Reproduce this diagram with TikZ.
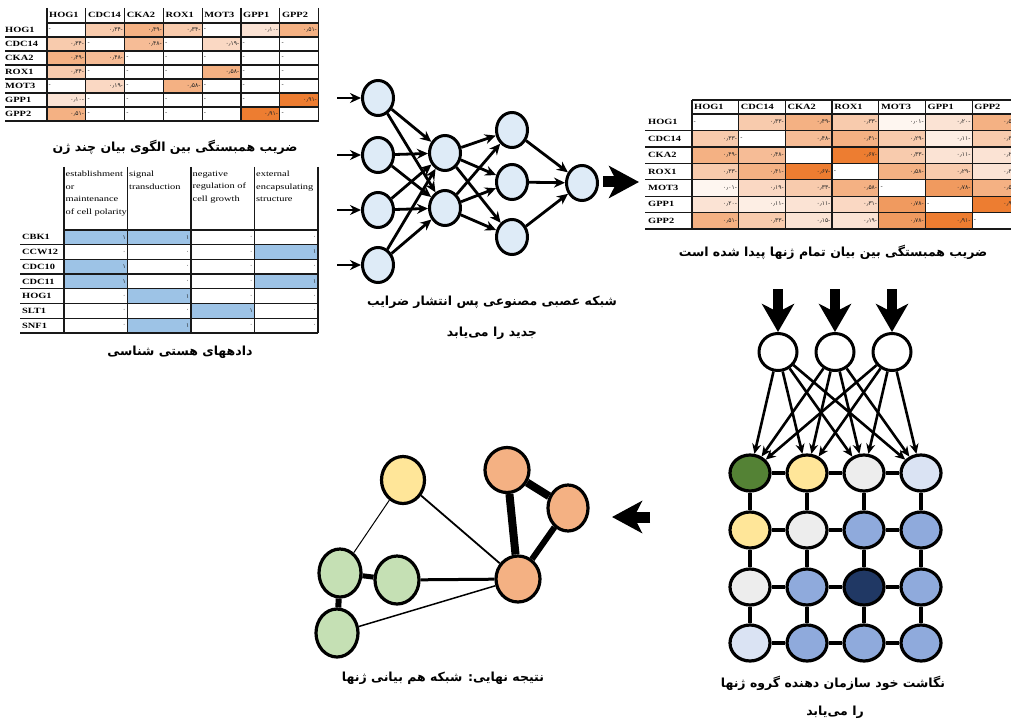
\documentclass[tikz,border=0pt]{standalone}
\usepackage{fontspec}
\setmainfont{Liberation Serif}
\newfontfamily\labfont[FakeStretch=1.3]{Liberation Serif}
\newfontfamily\fa[Script=Arabic]{DejaVu Sans}
\TeXXeTstate=1
\usetikzlibrary{arrows.meta,shapes.geometric}
\definecolor{o0}{HTML}{FEF6F0}
\definecolor{o05}{HTML}{FDEEE4}
\definecolor{o1}{HTML}{FBE3D4}
\definecolor{o15}{HTML}{FAD8C3}
\definecolor{o2}{HTML}{F8CBAD}
\definecolor{o25}{HTML}{F6BC96}
\definecolor{o3}{HTML}{F4B183}
\definecolor{o35}{HTML}{F09A5F}
\definecolor{o4}{HTML}{ED7D31}
\definecolor{tb}{HTML}{9DC3E6}
\definecolor{nnb}{HTML}{DEEBF7}
\definecolor{gG}{HTML}{548235}
\definecolor{gY}{HTML}{FFE699}
\definecolor{gL}{HTML}{EDEDED}
\definecolor{gP}{HTML}{DAE3F3}
\definecolor{gB}{HTML}{8FAADC}
\definecolor{gN}{HTML}{203864}
\definecolor{fY}{HTML}{FFE699}
\definecolor{fO}{HTML}{F4B183}
\definecolor{fG}{HTML}{C5E0B4}
\newcommand\tcell[8]{%
  \fill[fill=#6] (#2,#3) rectangle ++(#4,#5);
  \node[val,anchor=west] (#1l) at (#2+1.5,#3+#5/2) {#7};
  \node[val,anchor=east] (#1r) at (#2+#4-1.5,#3+#5/2) {#8};}
\newcommand\trow[6]{%
  \foreach \c/\l/\rr [count=\i from 0] in {#6} {\tcell{#1\i}{#2+#4*\i}{#3}{#4}{#5}{\c}{\l}{\rr}}}
\begin{document}
\begin{tikzpicture}[x=1pt,y=-1pt,
  tl/.style={line width=1.3pt,black!90},
  hlab/.style={font=\labfont\bfseries\fontsize{8}{8}\selectfont,anchor=west,inner sep=0pt},
  glab/.style={font=\labfont\fontsize{8}{12.5}\selectfont,anchor=north west,inner sep=0pt,align=left},
  val/.style={font=\fa\fontsize{6}{6}\selectfont,inner sep=0pt,text=black!85},
  captxt/.style={font=\fa\bfseries\fontsize{12.5}{15}\selectfont,inner sep=0pt},
  nn/.style={ellipse,draw,line width=3pt,fill=nnb,minimum width=31pt,minimum height=35pt,inner sep=0pt},
  ne/.style={line width=2.8pt,-{Stealth[length=11pt,width=10pt]}},
  sin/.style={ellipse,draw,line width=3pt,fill=white,minimum width=38pt,minimum height=37pt,inner sep=0pt},
  sg/.style={ellipse,draw,line width=3.2pt,minimum width=40pt,minimum height=36pt,inner sep=0pt},
  se/.style={line width=2.6pt,-{Stealth[length=10pt,width=9pt]}},
  gl/.style={line width=3.5pt},
  fn/.style={ellipse,draw,line width=3.2pt,inner sep=0pt},
  bigar/.style={line width=11pt,-{Stealth[length=30pt,width=32pt,inset=8pt]}},
  downar/.style={line width=10pt,-{Stealth[length=28pt,width=32pt,inset=8pt]}},
]
\useasboundingbox (0,0) rectangle (1011,722);
\clip (0,0) rectangle (1011,722);
\fill[white] (0,0) rectangle (1011,722);

% ---------- Table 1 ----------
\trow{ta}{47}{23}{38.8}{14}{white/-/{}, o2/{}/-۰٫۳۴, o3/{}/-۰٫۴۹, o2/{}/-۰٫۳۴, white/-/{}, o1/{}/-۰٫۱۰, o3/{}/-۰٫۵۱}
\trow{tb}{47}{37}{38.8}{14}{o2/{}/-۰٫۳۴, white/-/{}, o25/{}/-۰٫۴۸, white/-/{}, o15/{}/-۰٫۱۹, white/-/{}, white/-/{}}
\trow{tc}{47}{51}{38.8}{14}{o3/{}/-۰٫۴۹, o25/{}/-۰٫۴۸, white/-/{}, white/-/{}, white/-/{}, white/-/{}, white/-/{}}
\trow{td}{47}{65}{38.8}{14}{o2/{}/-۰٫۳۴, white/-/{}, white/-/{}, white/-/{}, o3/{}/-۰٫۵۸, white/-/{}, white/-/{}}
\trow{te}{47}{79}{38.8}{14}{white/-/{}, o15/{}/-۰٫۱۹, white/-/{}, o3/{}/-۰٫۵۸, white/-/{}, white/-/{}, white/-/{}}
\trow{tf}{47}{93}{38.8}{14}{o1/{}/-۰٫۱۰, white/-/{}, white/-/{}, white/-/{}, white/-/{}, white/-/{}, o4/{}/-۰٫۹۱}
\trow{tg}{47}{107}{38.8}{14}{o3/{}/-۰٫۵۱, white/-/{}, white/-/{}, white/-/{}, white/-/{}, o4/{}/-۰٫۹۱, white/-/{}}
\foreach \i in {0,...,7} \draw[tl] (47+38.8*\i,8) -- (47+38.8*\i,121);
\draw[tl] (47,23) -- (318.6,23);
\foreach \j in {1,...,7} \draw[tl] (5,23+14*\j) -- (318.6,23+14*\j);
\foreach \h [count=\i from 0] in {HOG1,CDC14,CKA2,ROX1,MOT3,GPP1,GPP2} {
  \node[hlab] (ha\i) at (47+38.8*\i+2,15) {\h};
  \node[hlab] (ra\i) at (5,23+14*\i+7) {\h};}
\node[captxt] (cap1) at (175,147) {\beginR ضریب همبستگی بین الگوی بیان چند ژن\endR};

% ---------- Table 2 ----------
\trow{ua}{64}{230}{63.5}{14.7}{tb/{}/۱, tb/{}/۱, white/{}/۰, white/{}/۰}
\trow{ub}{64}{244.7}{63.5}{14.7}{white/{}/۰, white/{}/۰, white/{}/۰, tb/{}/۱}
\trow{uc}{64}{259.4}{63.5}{14.7}{tb/{}/۱, white/{}/۰, white/{}/۰, white/{}/۰}
\trow{ud}{64}{274.1}{63.5}{14.7}{tb/{}/۱, white/{}/۰, white/{}/۰, tb/{}/۱}
\trow{ue}{64}{288.8}{63.5}{14.7}{white/{}/۰, tb/{}/۱, white/{}/۰, white/{}/۰}
\trow{uf}{64}{303.5}{63.5}{14.7}{white/{}/۰, white/{}/۰, tb/{}/۱, white/{}/۰}
\trow{ug}{64}{318.2}{63.5}{14.7}{white/{}/۰, tb/{}/۱, white/{}/۰, white/{}/۰}
\foreach \i in {0,...,4} \draw[tl] (64+63.5*\i,167) -- (64+63.5*\i,333);
\draw[tl] (64,230) -- (318,230);
\foreach \j in {1,...,7} \draw[tl] (20,230+14.7*\j) -- (318,230+14.7*\j);
\foreach \h [count=\i from 0] in {CBK1,CCW12,CDC10,CDC11,HOG1,SLT1,SNF1}
  \node[hlab] (rb\i) at (22,230+14.7*\i+7.35) {\h};
\node[glab] (gh1) at (65.5,171) {establishment\\or\\maintenance\\of cell polarity};
\node[glab] (gh2) at (129,171) {signal\\transduction};
\node[glab] (gh3) at (192.5,171) {negative\\regulation of\\cell growth};
\node[glab] (gh4) at (256,171) {external\\encapsulating\\structure};
\node[captxt] (cap2) at (180,352) {\beginR دادههای هستی شناسی\endR};

% ---------- Table 3 ----------
\trow{va}{692}{114}{46.7}{16.43}{white/-/{}, o2/{}/-۰٫۳۳, o3/{}/-۰٫۴۹, o2/{}/-۰٫۳۳, o0/{}/-۰٫۰۱, o1/{}/-۰٫۲۰, o3/{}/-۰٫۵۱}
\trow{vb}{692}{130.43}{46.7}{16.43}{o2/{}/-۰٫۳۳, white/-/{}, o25/{}/-۰٫۴۸, o3/{}/-۰٫۴۱, o2/{}/-۰٫۲۹, o05/{}/-۰٫۱۱, o2/{}/-۰٫۳۳}
\trow{vc}{692}{146.86}{46.7}{16.43}{o3/{}/-۰٫۴۹, o25/{}/-۰٫۴۸, white/{}/{}, o4/{}/-۰٫۶۷, o2/{}/-۰٫۳۳, o1/{}/-۰٫۱۱, o1/{}/-۰٫۲۰}
\trow{vd}{692}{163.29}{46.7}{16.43}{o2/{}/-۰٫۳۳, o3/{}/-۰٫۴۱, o4/{}/-۰٫۶۷, white/-/{}, o3/{}/-۰٫۵۸, o2/{}/-۰٫۲۹, o1/{}/-۰٫۳۰}
\trow{ve}{692}{179.72}{46.7}{16.43}{o0/{}/-۰٫۰۱, o15/{}/-۰٫۱۹, o2/{}/-۰٫۳۳, o3/{}/-۰٫۵۸, white/-/{}, o35/{}/-۰٫۷۸, o3/{}/-۰٫۵۰}
\trow{vf}{692}{196.15}{46.7}{16.43}{o1/{}/-۰٫۲۰, o05/{}/-۰٫۱۱, o1/{}/-۰٫۱۱, o15/{}/-۰٫۳۱, o35/{}/-۰٫۷۸, white/-/{}, o4/{}/-۰٫۹۱}
\trow{vg}{692}{212.58}{46.7}{16.43}{o3/{}/-۰٫۵۱, o2/{}/-۰٫۳۳, o1/{}/-۰٫۱۵, o1/{}/-۰٫۱۹, o35/{}/-۰٫۷۸, o4/{}/-۰٫۹۱, white/-/{}}
\foreach \i in {0,...,7} \draw[tl] (692+46.7*\i,100) -- (692+46.7*\i,229);
\draw[tl] (692,100) -- (1019,100);
\draw[tl] (692,114) -- (1019,114);
\foreach \j in {1,...,7} \draw[tl] (645,114+16.43*\j) -- (1019,114+16.43*\j);
\foreach \h [count=\i from 0] in {HOG1,CDC14,CKA2,ROX1,MOT3,GPP1,GPP2} {
  \node[hlab] (hc\i) at (692+46.7*\i+2,107) {\h};
  \node[hlab] (rc\i) at (648,114+16.43*\i+8.2) {\h};}
\node[captxt] (cap3) at (833,252) {\beginR ضریب همبستگی بین بیان تمام ژنها پیدا شده است\endR};

% ---------- Neural network ----------
\node[nn] (a1) at (378,98) {};
\node[nn] (a2) at (378,155) {};
\node[nn] (a3) at (378,210) {};
\node[nn] (a4) at (378,265) {};
\node[nn] (b1) at (445,153) {};
\node[nn] (b2) at (445,208) {};
\node[nn] (c1) at (512,130) {};
\node[nn] (c2) at (512,182) {};
\node[nn] (c3) at (512,237) {};
\node[nn] (d) at (582,183) {};
\foreach \s/\y in {a1/98,a2/155,a3/210,a4/265} {
  \coordinate (in\s) at (337,\y);
  \draw[ne] (in\s) -- (\s);}
\foreach \s in {a1,a2,a3,a4} \foreach \t in {b1,b2} \draw[ne] (\s) -- (\t);
\foreach \s in {b1,b2} \foreach \t in {c1,c2,c3} \draw[ne] (\s) -- (\t);
\foreach \s in {c1,c2,c3} \draw[ne] (\s) -- (d);
\coordinate (ar1s) at (603,182);
\coordinate (ar1e) at (639,182);
\draw[bigar] (ar1s) -- (ar1e);
\node[captxt] (nc1) at (492,302) {\beginR شبکه عصبی مصنوعی پس انتشار ضرایب\endR};
\node[captxt] (nc2) at (492,333) {\beginR جدید را می‌یابد\endR};

% ---------- SOM ----------
\node[sin] (i1) at (778,352) {};
\node[sin] (i2) at (835,352) {};
\node[sin] (i3) at (892,352) {};
\foreach \n/\x in {i1/778,i2/835,i3/892} {
  \coordinate (dt\n) at (\x,289);
  \draw[downar] (dt\n) -- (\n.north);}
\foreach \r/\y/\cols in {1/473/{gG,gY,gL,gP},2/530/{gY,gL,gB,gB},3/587/{gL,gB,gN,gB},4/643/{gP,gB,gB,gB}} {
  \foreach \cc [count=\k] in \cols {
    \node[sg,fill=\cc] (s\r\k) at (750+57*\k-57,\y) {};}}
\foreach \r in {1,...,4} \foreach \k/\kk in {1/2,2/3,3/4} \draw[gl] (s\r\k) -- (s\r\kk);
\foreach \k in {1,...,4} \foreach \r/\rr in {1/2,2/3,3/4} \draw[gl] (s\r\k) -- (s\rr\k);
\foreach \s in {i1,i2,i3} \foreach \t in {s11,s12,s13,s14} \draw[se] (\s) -- (\t);
\node[captxt] (sc1) at (833,683) {\beginR نگاشت خود سازمان دهنده گروه ژنها\endR};
\node[captxt] (sc2) at (835,712) {\beginR را می‌یابد\endR};

\coordinate (ar2s) at (650,517);
\coordinate (ar2e) at (612,517);
\draw[bigar] (ar2s) -- (ar2e);

% ---------- Final network ----------
\node[fn,fill=fY,minimum width=43pt,minimum height=47pt] (fy) at (403,480) {};
\node[fn,fill=fO,minimum width=44pt,minimum height=45pt] (fo1) at (507,470) {};
\node[fn,fill=fO,minimum width=40pt,minimum height=46pt] (fo2) at (568,508) {};
\node[fn,fill=fO,minimum width=44pt,minimum height=46pt] (fo3) at (518,579) {};
\node[fn,fill=fG,minimum width=42pt,minimum height=48pt] (g1) at (340,573) {};
\node[fn,fill=fG,minimum width=44pt,minimum height=48pt] (g2) at (397,580) {};
\node[fn,fill=fG,minimum width=42pt,minimum height=48pt] (g3) at (337,633) {};
\draw[line width=8pt] (fo1) -- (fo2);
\draw[line width=8pt] (fo1) -- (fo3);
\draw[line width=6pt] (fo2) -- (fo3);
\draw[line width=5pt] (g1) -- (g2);
\draw[line width=6pt] (g1) -- (g3);
\draw[line width=3pt] (g2) -- (fo3);
\draw[line width=1.5pt] (g3) -- (fo3);
\draw[line width=1pt] (fy) -- (g1);
\draw[line width=1.8pt] (fy) -- (fo3);
\node[captxt] (fc) at (443,678) {\beginR نتیجه نهایی: شبکه هم بیانی ژنها\endR};
\end{tikzpicture}
\end{document}
